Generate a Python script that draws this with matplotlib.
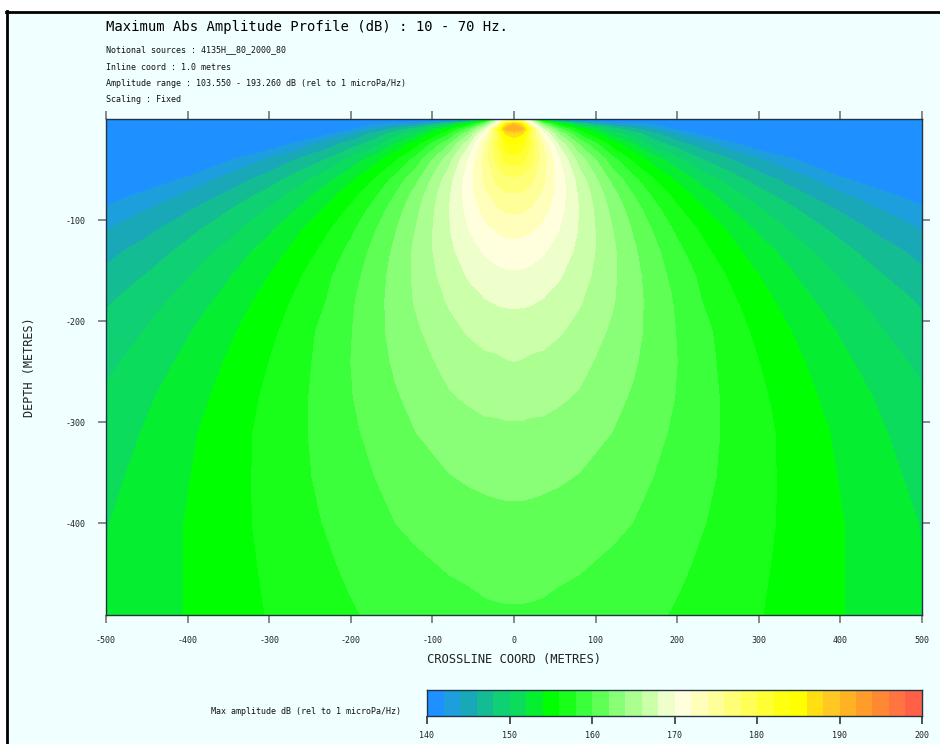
import matplotlib
matplotlib.use("Agg")
import matplotlib.pyplot as plt
import numpy as np
from matplotlib.patches import Rectangle

W, H = 940, 744

# crossline offsets (m), right half - the section is symmetric about 0
offsets = [0, 10, 20, 35, 55, 80, 120, 145, 170, 200, 230, 265, 300, 350, 400, 450, 500]
depths = [0, 2, 5, 10, 15, 25, 40, 60, 75, 90, 110, 130, 155, 180, 210, 240, 275, 310, 355, 400, 445, 491]

amp_0 = [170, 165, 155, 146, 140, 135, 130, 127, 125, 122, 120, 117, 115, 112, 110, 107, 105]
amp_2 = [180, 176.4, 168, 155, 147, 142.5, 135, 132, 130, 127, 125, 122, 120, 117, 115, 112, 110]
amp_5 = [190, 186, 172.1, 162.7, 154.9, 149.4, 144.4, 143, 142, 138, 135, 131, 128, 124, 121, 119, 117]
amp_10 = [192, 190.5, 181, 168.3, 160.8, 154.9, 148.9, 146.6, 144.3, 141.5, 139, 136.6, 134, 130.8, 127, 125, 123]
amp_15 = [187, 186, 179.1, 171.3, 164, 157.8, 151.3, 149.1, 146.8, 144, 141.6, 139.2, 137.2, 134, 131, 129, 127]
amp_25 = [184.3, 183, 180, 174.1, 167.7, 161.8, 155.1, 152.3, 149.2, 147, 145, 142.6, 140.4, 137.7, 135.4, 133, 131]
amp_40 = [181.2, 180.7, 178.8, 175.1, 170.2, 165.1, 158.8, 155.7, 153.1, 150.5, 148, 146.1, 144.3, 141.7, 139.4, 137.5, 135.6]
amp_60 = [177.4, 177.3, 176.6, 174.5, 171.2, 167.1, 161.5, 158.7, 156.2, 153.6, 151.3, 149.1, 147, 144.8, 142.4, 140.7, 139]
amp_75 = [175.8, 175.7, 175.1, 173.6, 171.1, 167.7, 162.8, 160.1, 157.7, 155.2, 153, 150.8, 148.8, 146.4, 144.3, 142.5, 140.9]
amp_90 = [174.4, 174.2, 173.8, 172.7, 170.7, 167.9, 163.5, 161.1, 158.8, 156.4, 154.3, 152.1, 150.2, 147.9, 145.8, 144, 142.4]
amp_110 = [172.6, 172.5, 172.2, 171.5, 170, 167.8, 164.1, 161.9, 159.9, 157.6, 155.7, 153.7, 151.7, 149.3, 147.4, 145.5, 144]
amp_130 = [171.2, 171.1, 170.9, 170.3, 169.2, 167.5, 164.4, 162.4, 160.6, 158.5, 156.6, 154.6, 152.9, 150.6, 148.6, 146.8, 145.3]
amp_155 = [169.6, 169.6, 169.4, 169, 168.2, 166.9, 164.4, 162.7, 161.1, 159.2, 157.6, 155.7, 154, 151.8, 149.8, 148.1, 146.5]
amp_180 = [168.3, 168.3, 168.2, 167.9, 167.3, 166.2, 164.2, 162.8, 161.3, 159.7, 158, 156.4, 154.8, 152.7, 150.8, 149.2, 147.7]
amp_210 = [167.1, 167, 166.9, 166.7, 166.2, 165.4, 163.7, 162.6, 161.4, 159.9, 158.6, 157, 155.5, 153.6, 151.8, 150.1, 148.7]
amp_240 = [166, 165.9, 165.7, 165.6, 165.2, 164.6, 163.2, 162.3, 161.2, 160, 158.7, 157.3, 156, 154.2, 152.5, 150.9, 149.5]
amp_275 = [164.8, 164.8, 164.7, 164.6, 164.3, 163.8, 162.6, 161.8, 160.9, 159.9, 158.8, 157.5, 156.4, 154.7, 153.1, 151.7, 150.3]
amp_310 = [163.6, 163.6, 163.5, 163.5, 163.2, 162.8, 162, 161.3, 160.6, 159.6, 158.7, 157.6, 156.6, 155.1, 153.6, 152.2, 150.8]
amp_355 = [162.6, 162.6, 162.5, 162.4, 162.2, 161.9, 161.2, 160.6, 160, 159.3, 158.5, 157.5, 156.6, 155.2, 153.9, 152.7, 151.4]
amp_400 = [161.4, 161.4, 161.4, 161.3, 161.2, 160.9, 160.4, 160, 159.5, 158.8, 158.1, 157.4, 156.5, 155.3, 154.1, 153, 151.9]
amp_445 = [160.6, 160.6, 160.5, 160.5, 160.3, 160.1, 159.6, 159.3, 158.9, 158.3, 157.7, 157, 156.3, 155.2, 154.1, 153.1, 152.1]
amp_491 = [159.8, 159.8, 159.8, 159.7, 159.5, 159.3, 158.9, 158.6, 158.3, 157.8, 157.3, 156.8, 156.1, 155.1, 154.1, 153.2, 152.3]

band_colors = [
    "#1e90ff", "#1c9fdc", "#18a8b8", "#14bc94", "#10d074", "#0cdc5c",
    "#06ee30", "#00ff00", "#1aff1a", "#3cff3c", "#60ff55", "#88ff77",
    "#aaff90", "#ccffaa", "#eeffcc", "#ffffdd", "#ffffbb", "#ffff99",
    "#ffff77", "#ffff55", "#ffff33", "#ffff11", "#ffff00", "#ffdf11",
    "#ffc822", "#ffb222", "#ff9c2a", "#ff8833", "#ff7440", "#ff6047",
]
levels = np.arange(140, 202, 2)

title = "Maximum Abs Amplitude Profile (dB) : 10 - 70 Hz."
notes = [
    "Notional sources : 4135H__80_2000_80",
    "Inline coord : 1.0 metres",
    "Amplitude range : 103.550 - 193.260 dB (rel to 1 microPa/Hz)",
    "Scaling : Fixed",
]
x_ticks = [-500, -400, -300, -200, -100, 0, 100, 200, 300, 400, 500]
y_ticks = [-400, -300, -200, -100]
cbar_ticks = [140, 150, 160, 170, 180, 190, 200]

plt.rcParams["font.family"] = "DejaVu Sans Mono"
plt.rcParams["axes.unicode_minus"] = False


def px_axes(fig, left, top, right, bottom):
    return fig.add_axes([left / W, 1 - bottom / H, (right - left) / W, (bottom - top) / H])


def style_ticks(ax):
    ax.tick_params(length=6, width=1.2, color="#777777", labelsize=6, pad=9, labelcolor="#222222")
    for spine in ax.spines.values():
        spine.set_color("#223344")
        spine.set_linewidth(1.0)


fig = plt.figure(figsize=(W / 100, H / 100), dpi=100, facecolor="white")

# page background, black border on the top and left only
fig.add_artist(Rectangle((7 / W, 0), 1, 1 - 12 / H, transform=fig.transFigure,
                         facecolor="#f0ffff", edgecolor="none", zorder=-2))
fig.add_artist(plt.Line2D([7 / W, 7 / W], [0, 1 - 11 / H], color="black", lw=2, zorder=-1))
fig.add_artist(plt.Line2D([6 / W, 1], [1 - 12 / H, 1 - 12 / H], color="black", lw=2, zorder=-1))

fig.text(106 / W, 1 - 27 / H, title, fontsize=10, va="center", color="black")
for note, ypos in zip(notes, [50, 67, 84, 100]):
    fig.text(106 / W, 1 - ypos / H, note, fontsize=6, va="center", color="#111111")

amp_right = np.array([amp_0, amp_2, amp_5, amp_10, amp_15, amp_25, amp_40, amp_60, amp_75,
                      amp_90, amp_110, amp_130, amp_155, amp_180, amp_210, amp_240, amp_275,
                      amp_310, amp_355, amp_400, amp_445, amp_491])
x = np.array(offsets, dtype=float)
x_full = np.concatenate([-x[:0:-1], x])
amp_full = np.hstack([amp_right[:, :0:-1], amp_right])
y_full = -np.array(depths, dtype=float)

ax = px_axes(fig, 106, 119, 922, 615)
cf = ax.contourf(x_full, y_full, amp_full, levels=levels, colors=band_colors, extend="both")
ax.set_xlim(-500, 500)
ax.set_ylim(-491, 0)
ax.set_xticks(x_ticks)
ax.set_yticks(y_ticks)
ax.set_xticklabels([str(t) for t in x_ticks])
ax.set_yticklabels([str(t) for t in y_ticks])
ax.tick_params(top=True, right=True)
style_ticks(ax)
ax.set_xlabel("CROSSLINE COORD (METRES)", fontsize=8.7, color="#222222", labelpad=6)
ax.set_ylabel("DEPTH (METRES)", fontsize=8.5, color="#222222", labelpad=21)

# colour key
cax = px_axes(fig, 427, 690, 922, 716)
for i, col in enumerate(band_colors):
    cax.barh(0, 2, left=levels[i], height=1, color=col, linewidth=0)
cax.set_xlim(140, 200)
cax.set_ylim(-0.5, 0.5)
cax.set_yticks([])
cax.set_xticks(cbar_ticks)
style_ticks(cax)
cax.tick_params(pad=5, color="#333333")
fig.text(401 / W, 1 - 712 / H, "Max amplitude dB (rel to 1 microPa/Hz)", fontsize=6,
         ha="right", va="center", color="#111111")

fig.savefig("out.png", dpi=100, facecolor=fig.get_facecolor())
